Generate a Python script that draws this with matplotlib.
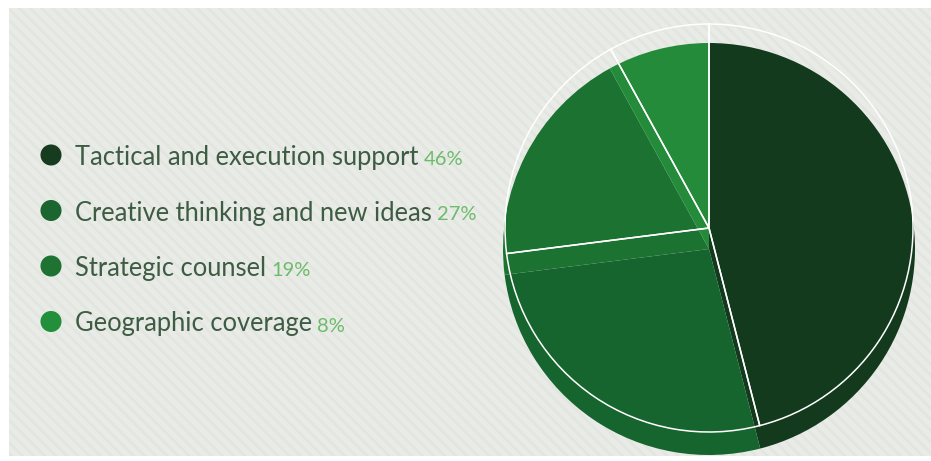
import matplotlib
matplotlib.use('Agg')
import matplotlib.pyplot as plt
from matplotlib.patches import Rectangle

# chart data
labels = ["Tactical and execution support", "Creative thinking and new ideas",
          "Strategic counsel", "Geographic coverage"]
shares = [46, 27, 19, 8]
slice_colors = ['#143a1e', '#17652e', '#1c7230', '#238b39']
dot_colors = ['#163b1e', '#1a6530', '#1e7232', '#22903a']

W, H = 931, 461
plt.rcParams['hatch.linewidth'] = 2.0

fig = plt.figure(figsize=(W / 100, H / 100), dpi=100)
fig.patch.set_facecolor('white')

# background panel, pixel coordinates with y going up
ax = fig.add_axes([0, 0, 1, 1])
ax.set_xlim(0, W)
ax.set_ylim(0, H)
ax.axis('off')
ax.add_patch(Rectangle((9, 5), W - 9, H - 13, facecolor='#e9ebe7', edgecolor='#e3e6e0',
                       linewidth=0, hatch='\\\\\\', zorder=0))

# pie "body" (shifted down) and white outline on top
pie_ax = fig.add_axes([0, 0, 1, 1])
pie_ax.pie(shares, colors=slice_colors, startangle=90, counterclock=False,
           center=(709, H - 249), radius=206,
           wedgeprops=dict(linewidth=0, antialiased=True))
pie_ax.pie(shares, colors=['none'] * 4, startangle=90, counterclock=False,
           center=(709, H - 228), radius=204,
           wedgeprops=dict(facecolor='none', edgecolor='white', linewidth=1.1))
pie_ax.set_xlim(0, W)
pie_ax.set_ylim(0, H)
pie_ax.set_aspect('equal', adjustable='datalim')
pie_ax.axis('off')

# legend on the left
y0, step = H - 155, 55.5
label_texts = []
for i, (lab, col) in enumerate(zip(labels, dot_colors)):
    y = y0 - i * step
    ax.scatter([51], [y], s=230, color=col, edgecolors='none', zorder=3)
    t = ax.text(75, y - 10, lab, fontsize=18.4, family='Lato',
                color='#3e5c43', va='baseline', ha='left', zorder=3)
    label_texts.append(t)

fig.canvas.draw()
renderer = fig.canvas.get_renderer()
for i, (t, v) in enumerate(zip(label_texts, shares)):
    bb = t.get_window_extent(renderer)
    y = y0 - i * step
    ax.text(bb.x1 + 5, y - 10, f"{v}%", fontsize=14.5, family='Lato',
            color='#6dbb6a', va='baseline', ha='left', zorder=3)

fig.savefig('out.png', dpi=100)
